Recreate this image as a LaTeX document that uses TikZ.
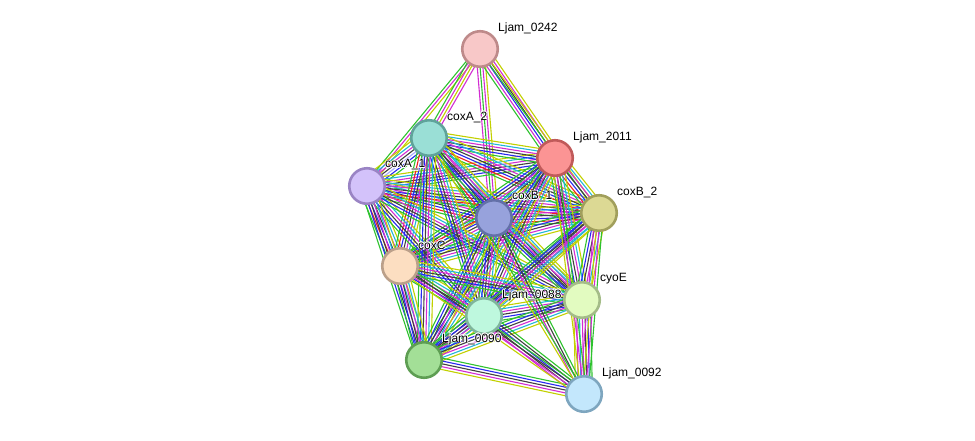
\documentclass[tikz,border=0pt]{standalone}
\usepackage{fontspec}
\setmainfont{Liberation Sans}
\usetikzlibrary{calc}
\definecolor{eG}{HTML}{2EC22E}
\definecolor{eR}{HTML}{F02020}
\definecolor{eB}{HTML}{2828F0}
\definecolor{eK}{HTML}{404040}
\definecolor{eM}{HTML}{D22CD2}
\definecolor{eC}{HTML}{22B6D8}
\definecolor{eY}{HTML}{C2D000}
\definecolor{eH}{HTML}{A8A8FF}
\newcommand\bundle[3]{%
  \gdef\bcount{0}%
  \foreach \c in {#3}{\xdef\bcount{\the\numexpr\bcount+1\relax}}%
  \foreach \c [count=\i] in {#3}{%
    \pgfmathsetmacro\off{(\i-(\bcount+1)/2)*2.8}%
    \draw[edgeline,draw=\c] ($(#1)!\off pt!90:(#2)$) -- ($(#2)!\off pt!-90:(#1)$);
  }%
}
\newcommand\lab[2]{%
  \foreach \dx/\dy in {0.8/0,-0.8/0,0/0.8,0/-0.8,0.6/0.6,-0.6/0.6,0.6/-0.6,-0.6/-0.6}{%
    \node[lbl,text=white] at ($(#1)+(18+\dx,-21+\dy)$) {#2};
  }%
  \node[lbl] (#1-lab) at ($(#1)+(18,-21)$) {#2};
}
\begin{document}
\begin{tikzpicture}[x=1pt,y=-1pt,
  edgeline/.style={line width=1.1pt},
  prot/.style={circle,inner sep=0pt,minimum size=35.5pt,line width=2.6pt},
  lbl/.style={anchor=west,font=\fontsize{12}{14}\selectfont,inner sep=0pt,text=black}]
\useasboundingbox (0,0) rectangle (975,440);
% node coordinates
\coordinate (n0242) at (480,49);
\coordinate (a2) at (429,138);
\coordinate (l2011) at (555,158);
\coordinate (a1) at (367,186);
\coordinate (b1) at (494,218);
\coordinate (b2) at (599,213);
\coordinate (cc) at (400,266);
\coordinate (l88) at (484,316);
\coordinate (cy) at (582,300);
\coordinate (l90) at (424,360);
\coordinate (l92) at (584,394);
% edges
\bundle{n0242}{a1}{eG,eM,eY}
\bundle{n0242}{a2}{eG,eM,eY,eM}
\bundle{n0242}{b1}{eM,eG,eM,eY}
\bundle{n0242}{l2011}{eG,eM,eB,eK,eM,eY}
\bundle{n0242}{b2}{eG,eY}
\bundle{a1}{a2}{eG,eB,eH,eK,eM,eC,eY}
\bundle{a1}{l2011}{eG,eB,eK,eM,eC,eY}
\bundle{a1}{b1}{eG,eR,eB,eK,eM,eC,eY}
\bundle{a1}{b2}{eG,eR,eB,eK,eM,eC,eY}
\bundle{a1}{cc}{eG,eR,eB,eK,eM,eC,eY}
\bundle{a2}{l2011}{eG,eB,eK,eM,eC,eY}
\bundle{a2}{b1}{eG,eR,eB,eK,eM,eC,eY}
\bundle{a2}{b2}{eG,eR,eB,eK,eM,eC,eY}
\bundle{a2}{cc}{eG,eR,eB,eK,eM,eC,eY}
\bundle{l2011}{b1}{eG,eB,eK,eM,eC,eY}
\bundle{l2011}{b2}{eG,eR,eB,eK,eM,eC,eY}
\bundle{l2011}{cc}{eG,eB,eK,eM,eC,eY}
\bundle{b1}{b2}{eG,eR,eB,eK,eM,eC,eY}
\bundle{b1}{cc}{eG,eR,eB,eK,eM,eC,eY}
\bundle{b2}{cc}{eG,eB,eK,eM,eC,eY}
\foreach \o in {a1,a2,l2011,b1,b2,cc}{
  \bundle{\o}{l88}{eG,eB,eK,eM,eC,eY}
  \bundle{\o}{cy}{eG,eB,eK,eM,eC,eY}
  \bundle{\o}{l90}{eG,eB,eK,eM,eC,eY}
}
\bundle{l88}{cy}{eG,eB,eK,eM,eC,eY}
\bundle{l88}{l90}{eG,eB,eK,eM,eC,eY}
\bundle{cy}{l90}{eG,eB,eK,eM,eC,eY}
\bundle{l92}{l90}{eG,eB,eK,eM,eY}
\bundle{l92}{l88}{eG,eK,eB,eK,eM}
\bundle{l92}{cy}{eG,eB,eK,eM,eC,eM,eY}
\bundle{l92}{b2}{eG,eM,eY,eM}
\bundle{l92}{cc}{eG,eK,eM,eY}
\bundle{l92}{b1}{eG,eK,eM}
\bundle{l92}{l2011}{eG,eM,eY}
\bundle{l92}{a2}{eG,eY}
% nodes
\node[prot,fill={rgb,255:red,248;green,200;blue,200},draw={rgb,255:red,190;green,138;blue,138}] (N0242) at (n0242) {};
\node[prot,fill={rgb,255:red,154;green,223;blue,214},draw={rgb,255:red,95;green,163;blue,154}] (Na2) at (a2) {};
\node[prot,fill={rgb,255:red,251;green,148;blue,148},draw={rgb,255:red,192;green,90;blue,90}] (Nl2011) at (l2011) {};
\node[prot,fill={rgb,255:red,211;green,194;blue,250},draw={rgb,255:red,154;green,132;blue,196}] (Na1) at (a1) {};
\node[prot,fill={rgb,255:red,151;green,162;blue,220},draw={rgb,255:red,99;green,112;blue,168}] (Nb1) at (b1) {};
\node[prot,fill={rgb,255:red,220;green,217;blue,148},draw={rgb,255:red,161;green,159;blue,92}] (Nb2) at (b2) {};
\node[prot,fill={rgb,255:red,252;green,222;blue,193},draw={rgb,255:red,187;green,160;blue,138}] (Ncc) at (cc) {};
\node[prot,fill={rgb,255:red,190;green,248;blue,222},draw={rgb,255:red,127;green,181;blue,155}] (Nl88) at (l88) {};
\node[prot,fill={rgb,255:red,226;green,251;blue,192},draw={rgb,255:red,164;green,188;blue,136}] (Ncy) at (cy) {};
\node[prot,fill={rgb,255:red,163;green,223;blue,151},draw={rgb,255:red,94;green,158;blue,83}] (Nl90) at (l90) {};
\node[prot,fill={rgb,255:red,195;green,231;blue,252},draw={rgb,255:red,126;green,166;blue,191}] (Nl92) at (l92) {};
% labels
\lab{n0242}{Ljam\_0242}
\lab{a2}{coxA\_2}
\lab{l2011}{Ljam\_2011}
\lab{a1}{coxA\_1}
\lab{b1}{coxB\_1}
\lab{b2}{coxB\_2}
\lab{cc}{coxC}
\lab{l88}{Ljam\_0088}
\lab{cy}{cyoE}
\lab{l90}{Ljam\_0090}
\lab{l92}{Ljam\_0092}
\end{tikzpicture}
\end{document}
